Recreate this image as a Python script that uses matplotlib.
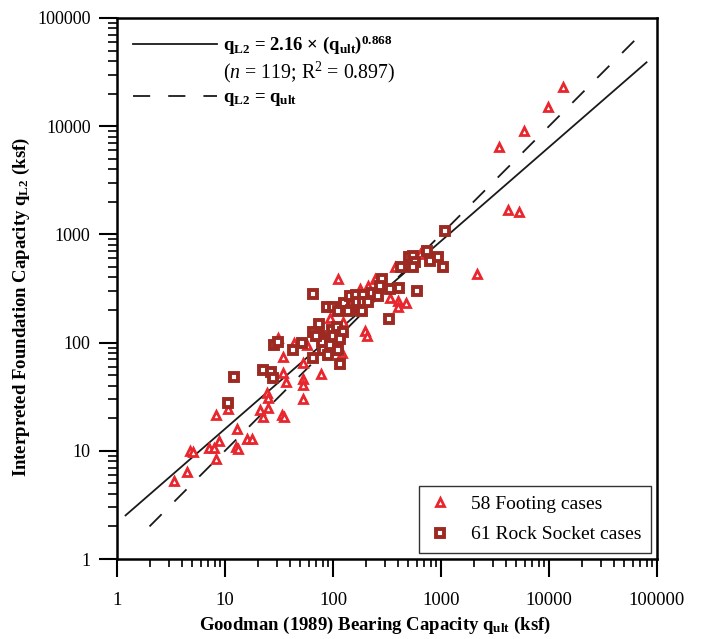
import numpy as np
import matplotlib
matplotlib.use('Agg')
import matplotlib.pyplot as plt
from matplotlib.lines import Line2D
from matplotlib import ticker

plt.rcParams['font.family'] = ['Liberation Serif', 'DejaVu Serif']
plt.rcParams['mathtext.fontset'] = 'custom'
plt.rcParams['mathtext.rm'] = 'Liberation Serif'
plt.rcParams['mathtext.it'] = 'Liberation Serif:italic'
plt.rcParams['mathtext.bf'] = 'Liberation Serif:bold'
plt.rcParams['mathtext.default'] = 'regular'
# ticks: long outward majors, short minors
plt.rcParams['xtick.direction'] = 'out'
plt.rcParams['ytick.direction'] = 'out'
plt.rcParams['xtick.major.size'] = 13
plt.rcParams['ytick.major.size'] = 13
plt.rcParams['xtick.minor.size'] = 6
plt.rcParams['ytick.minor.size'] = 6.5
plt.rcParams['xtick.major.width'] = 1.5
plt.rcParams['ytick.major.width'] = 1.5
plt.rcParams['xtick.minor.width'] = 1.2
plt.rcParams['ytick.minor.width'] = 1.2
plt.rcParams['xtick.major.pad'] = 11
plt.rcParams['ytick.major.pad'] = 6
plt.rcParams['xtick.labelsize'] = 13.5
plt.rcParams['ytick.labelsize'] = 13

# 58 footing cases (q_ult, q_L2) in ksf
footing_x = [3.37, 4.45, 4.74, 5.05, 7.1, 7.9, 8.25, 8.8, 8.25, 10.7,
             12.9, 12.7, 13.1, 16.0, 17.8, 21.1, 22.5, 25.0, 24.4, 25.0,
             33.6, 35.0, 34.4, 36.7, 34.4, 52.7, 52.7, 52.7, 77.4, 43.5,
             57.5, 121, 111, 124, 198, 206, 211, 337, 400, 474,
             400, 31.0, 52.7, 93.8, 144, 178, 245, 375, 516, 75.8,
             639, 2150, 13480, 9790, 5870, 3440, 4170, 5280]
footing_y = [5.3, 6.4, 10.0, 9.8, 10.7, 10.7, 8.4, 12.4, 21.5, 24.5,
             16.0, 10.9, 10.4, 12.9, 12.9, 24.0, 20.6, 25.0, 34.4, 30.9,
             21.5, 20.6, 52.7, 43.5, 74.2, 46.4, 40.8, 30.3, 51.6, 100,
             95.8, 80.8, 391, 156, 129, 114, 330, 261, 240, 230,
             215, 111, 65.3, 170, 225, 310, 383, 495, 562, 132,
             653, 435, 22960, 15000, 8990, 6390, 1668, 1600]

# 61 rock socket cases
socket_x = [10.7, 12.1, 22.5, 26.7, 27.8, 28.4, 31.0, 42.6, 51.6, 65.3,
            65.3, 74.2, 65.3, 75.8, 88.0, 80.8, 97.9, 109, 124, 100,
            116, 88.0, 100, 111, 126, 144, 147, 163, 190, 167,
            190, 211, 186, 230, 284, 272, 337, 408, 600, 330,
            426, 505, 550, 575, 550, 742, 791, 938, 1044, 1089,
            138, 80.8, 100, 79, 90, 107, 69.6, 116, 93.8, 111,
            261]
socket_y = [27.8, 48.4, 56.2, 53.9, 47.4, 95.8, 102, 86.1, 100, 72.6,
            284, 147, 126, 116, 107, 91.9, 132, 138, 124, 114,
            63.9, 215, 215, 194, 230, 267, 202, 278, 278, 235,
            235, 235, 198, 290, 391, 330, 310, 323, 297, 167,
            495, 612, 625, 550, 505, 696, 562, 612, 505, 1066,
            194, 86.1, 86.1, 102, 77, 95.8, 114, 107, 95.8, 86.1,
            272]

# regression q_L2 = a * q_ult^b and the 1:1 line
fit_a = 2.16
fit_b = 0.868
fit_range = [1.2, 80000]
line_range = [2.0, 80000]

fig = plt.figure(figsize=(7.04, 6.39), dpi=100)
ax = fig.add_axes([117 / 704, 1 - 559 / 639, 540 / 704, 541 / 639])

xf = np.logspace(np.log10(fit_range[0]), np.log10(fit_range[1]), 50)
ax.plot(xf, fit_a * xf ** fit_b, color='#1a1a1a', lw=1.3)
xl = np.array(line_range)
ax.plot(xl, xl, color='#1a1a1a', lw=1.3, dashes=(9.5, 10))

tri_color = '#E8262E'
sq_color = '#9C2A22'
ax.plot(footing_x, footing_y, ls='none', marker='^', ms=5.8, mfc='white',
        mec=tri_color, mew=2.0)
ax.plot(socket_x, socket_y, ls='none', marker='s', ms=6, mfc='white',
        mec=sq_color, mew=2.8)

ax.set_xscale('log')
ax.set_yscale('log')
ax.set_xlim(1, 100000)
ax.set_ylim(1, 100000)

fmt = ticker.FuncFormatter(lambda v, p: '%d' % int(round(v)))
for axis in (ax.xaxis, ax.yaxis):
    axis.set_major_locator(ticker.LogLocator(base=10, numticks=10))
    axis.set_minor_locator(ticker.LogLocator(base=10, subs=np.arange(2, 10), numticks=10))
    axis.set_major_formatter(fmt)
    axis.set_minor_formatter(ticker.NullFormatter())
for s in ax.spines.values():
    s.set_linewidth(1.8)

ax.set_xlabel('Goodman (1989) Bearing Capacity q$_{ult}$ (ksf)',
              fontsize=13.5, fontweight='bold')
ax.set_ylabel('Interpreted Foundation Capacity q$_{L2}$ (ksf)',
              fontsize=13.5, fontweight='bold')
ax.xaxis.set_label_coords(0.477, -0.104)
ax.yaxis.set_label_coords(-0.158, 0.466)

# line legend, top left
h1 = Line2D([], [], color='#1a1a1a', lw=1.3)
h0 = Line2D([], [], color='none')
h2 = Line2D([], [], color='#1a1a1a', lw=1.3, dashes=(9.5, 10))
leg1 = ax.legend([h1, h0, h2],
                 ['q$_{L2}$ = 2.16 × (q$_{ult}$)$^{0.868}$',
                  r'($\mathit{n}$ = 119; R$^2$ = 0.897)',
                  'q$_{L2}$ = q$_{ult}$'],
                 loc='upper left', bbox_to_anchor=(0.0, 1.0), frameon=False,
                 fontsize=13.5, handlelength=4.5, handletextpad=0.3,
                 labelspacing=0.2, borderaxespad=0.45)
t = leg1.get_texts()
t[0].set_fontweight('bold')
t[1].set_fontsize(14.3)
t[2].set_fontweight('bold')
ax.add_artist(leg1)

# marker legend, bottom right
m1 = Line2D([], [], ls='none', marker='^', ms=5.8, mfc='white', mec=tri_color, mew=2.0)
m2 = Line2D([], [], ls='none', marker='s', ms=6, mfc='white', mec=sq_color, mew=2.8)
leg2 = ax.legend([m1, m2], ['58 Footing cases', '61 Rock Socket cases'],
                 loc='lower right', fontsize=14, fancybox=False, framealpha=1,
                 edgecolor='#333333', handlelength=1.15, handletextpad=1.0,
                 labelspacing=0.65, borderpad=0.5, borderaxespad=0.3)
leg2.get_frame().set_linewidth(1.0)

fig.savefig('out.png', dpi=100)
